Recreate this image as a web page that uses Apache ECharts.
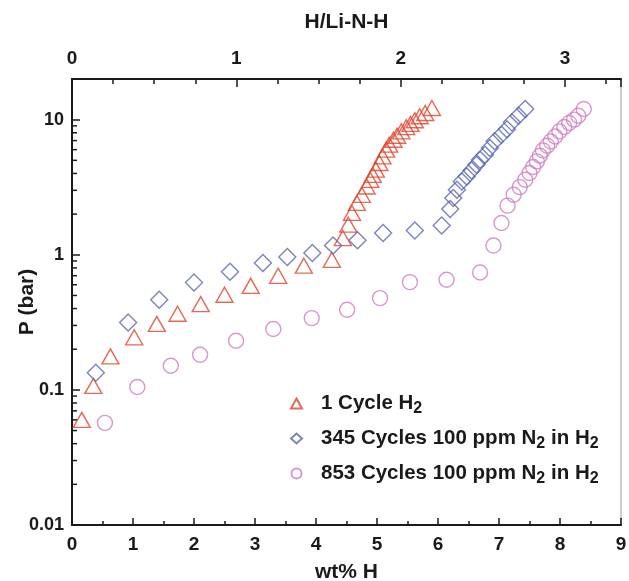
<!DOCTYPE html>
<html>
<head>
<meta charset="utf-8">
<script src="https://cdn.jsdelivr.net/npm/echarts@6/dist/echarts.min.js"></script>
<style>
  html, body { margin: 0; padding: 0; background: #fff; }
  #chart { width: 629px; height: 581px; }
</style>
</head>
<body>
<div id="chart"></div>
<script>
// wt% H and P (bar)
const cycle1 = [
  [0.16, 0.060], [0.35, 0.107], [0.63, 0.177], [1.02, 0.245], [1.39, 0.308],
  [1.73, 0.366], [2.11, 0.431], [2.50, 0.506], [2.93, 0.589], [3.38, 0.699],
  [3.80, 0.83], [4.26, 0.918], [4.44, 1.33], [4.53, 1.67], [4.59, 2.04],
  [4.67, 2.42], [4.75, 2.78], [4.83, 3.2], [4.89, 3.59], [4.93, 3.9],
  [4.98, 4.27], [5.04, 4.78], [5.09, 5.35], [5.15, 6.0], [5.20, 6.53],
  [5.27, 7.1], [5.33, 7.6], [5.40, 8.2], [5.48, 8.8], [5.55, 9.3],
  [5.62, 9.9], [5.70, 10.6], [5.79, 11.2], [5.90, 12.2]
]
const cycle345 = [
  [0.39, 0.134], [0.92, 0.315], [1.43, 0.464], [2.00, 0.624], [2.59, 0.75],
  [3.13, 0.869], [3.53, 0.962], [3.94, 1.03], [4.28, 1.17], [4.68, 1.28],
  [5.10, 1.45], [5.62, 1.51], [6.06, 1.65], [6.20, 2.18], [6.25, 2.63],
  [6.31, 3.03], [6.39, 3.49], [6.47, 3.8], [6.55, 4.21], [6.63, 4.64],
  [6.69, 5.06], [6.77, 5.51], [6.85, 6.17], [6.93, 6.91], [7.04, 7.74],
  [7.13, 8.5], [7.21, 9.55], [7.32, 10.7], [7.43, 12.0]
]
const cycle853 = [
  [0.54, 0.057], [1.07, 0.105], [1.62, 0.151], [2.10, 0.182], [2.69, 0.231],
  [3.30, 0.282], [3.93, 0.34], [4.51, 0.392], [5.05, 0.478], [5.54, 0.628],
  [6.14, 0.653], [6.69, 0.74], [6.91, 1.17], [7.04, 1.72], [7.14, 2.31],
  [7.24, 2.78], [7.34, 3.17], [7.43, 3.59], [7.50, 4.03], [7.56, 4.46],
  [7.62, 4.91], [7.67, 5.41], [7.72, 5.93], [7.79, 6.42], [7.85, 6.91],
  [7.92, 7.51], [7.99, 8.19], [8.07, 8.83], [8.15, 9.46], [8.23, 10.0],
  [8.30, 10.7], [8.39, 12.0]
]
const seriesNames = ['1 Cycle H{s|2}', '345 Cycles 100 ppm N{s|2} in H{s|2}', '853 Cycles 100 ppm N{s|2} in H{s|2}']
const yMajor = [0.01, 0.1, 1, 10]
// log minor ticks 2..9 of each decade
const yMinor = [0.02, 0.03, 0.04, 0.05, 0.06, 0.07, 0.08, 0.09,
  0.2, 0.3, 0.4, 0.5, 0.6, 0.7, 0.8, 0.9,
  2, 3, 4, 5, 6, 7, 8, 9]

const font = '"Liberation Sans", Arial, sans-serif'
const ink = '#1a1a1a'

const chart = echarts.init(document.getElementById('chart'))

chart.setOption({
  animation: false,
  backgroundColor: '#fff',
  grid: {
    left: 72, right: 8, top: 79, bottom: 56,
    outerBoundsMode: 'none',
    containLabel: false,
    show: true, borderColor: '#9a9a9a', borderWidth: 1
  },
  legend: {
    orient: 'vertical',
    left: 285,
    top: 384,
    itemWidth: 11,
    itemHeight: 10,
    itemGap: 7,
    data: seriesNames,
    formatter: name => '{g|}' + name,
    textStyle: {
      fontFamily: font, fontWeight: 'bold', fontSize: 20.5, color: ink,
      lineHeight: 27,
      rich: {
        g: { width: 14 },
        s: { fontFamily: font, fontWeight: 'bold', fontSize: 16, color: ink, verticalAlign: 'bottom', lineHeight: 18, padding: [12, 0, 0, 0] }
      }
    }
  },
  xAxis: [{
    type: 'value',
    min: 0, max: 9, interval: 1,
    name: 'wt% H',
    nameLocation: 'middle',
    nameGap: 37,
    nameMoveOverlap: false,
    nameTextStyle: { fontFamily: font, fontWeight: 'bold', fontSize: 21, color: ink },
    axisLine: { lineStyle: { color: ink, width: 2 } },
    axisTick: { inside: true, length: 7, lineStyle: { color: ink, width: 1.5 } },
    minorTick: { show: true, splitNumber: 2, length: 4, lineStyle: { color: ink, width: 1.5 } },
    axisLabel: { margin: 10, fontFamily: font, fontWeight: 'bold', fontSize: 19, color: ink },
    splitLine: { show: false }
  }, {
    type: 'value',
    position: 'top',
    min: 0, max: 3.34, interval: 1,
    name: 'H/Li-N-H',
    nameLocation: 'middle',
    nameGap: 46,
    nameMoveOverlap: false,
    nameTextStyle: { fontFamily: font, fontWeight: 'bold', fontSize: 21, color: ink },
    axisLine: { lineStyle: { color: ink, width: 2 } },
    axisTick: { inside: true, length: 8, lineStyle: { color: ink, width: 1.5 } },
    minorTick: { show: true, splitNumber: 4, length: 5, lineStyle: { color: ink, width: 1.5 } },
    axisLabel: { margin: 11, fontFamily: font, fontWeight: 'bold', fontSize: 19, color: ink, showMaxLabel: false },
    splitLine: { show: false }
  }],
  yAxis: {
    type: 'log',
    logBase: 10,
    min: 0.01, max: 20,
    name: 'P (bar)',
    nameLocation: 'middle',
    nameGap: 34,
    nameMoveOverlap: false,
    nameTextStyle: { fontFamily: font, fontWeight: 'bold', fontSize: 21, color: ink },
    axisLine: { lineStyle: { color: ink, width: 2 } },
    axisTick: { inside: true, length: 8, lineStyle: { color: ink, width: 1.5 } },
    axisLabel: {
      margin: 8, fontFamily: font, fontWeight: 'bold', fontSize: 18, color: ink,
      showMaxLabel: false,
      formatter: v => yMajor.some(m => Math.abs(m - v) / m < 1e-6) ? String(v) : ''
    },
    splitLine: { show: false }
  },
  series: [{
    name: seriesNames[0],
    type: 'scatter',
    symbol: 'triangle',
    symbolSize: [17, 15],
    itemStyle: { color: 'rgba(255,255,255,0)', borderColor: '#e0442a', borderWidth: 1.4 },
    data: cycle1
  }, {
    name: seriesNames[1],
    type: 'scatter',
    symbol: 'diamond',
    symbolSize: [17, 17],
    itemStyle: { color: 'rgba(255,255,255,0)', borderColor: '#5a64b2', borderWidth: 1.4 },
    data: cycle345
  }, {
    name: seriesNames[2],
    type: 'scatter',
    symbol: 'circle',
    symbolSize: 15,
    itemStyle: { color: 'rgba(255,255,255,0)', borderColor: '#cd7ec0', borderWidth: 1.4 },
    data: cycle853
  }, {
    // minor ticks of the log axis, placed through the axis scale
    type: 'custom',
    silent: true,
    clip: false,
    data: yMinor.map(v => [0, v]),
    renderItem: (params, api) => {
      const p = api.coord([api.value(0), api.value(1)])
      return {
        type: 'line',
        shape: { x1: p[0], y1: p[1], x2: p[0] + 5, y2: p[1] },
        style: { stroke: ink, lineWidth: 1.5 }
      }
    }
  }]
})
</script>
</body>
</html>
